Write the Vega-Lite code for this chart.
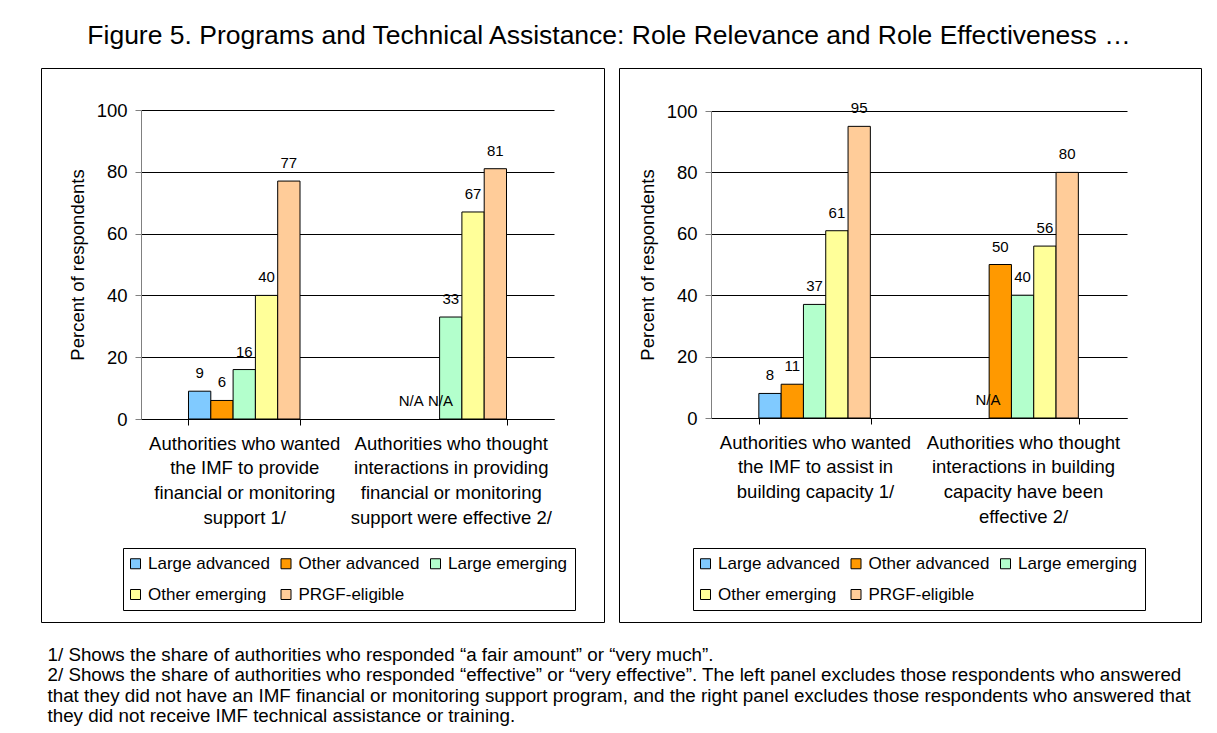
{
  "$schema": "https://vega.github.io/schema/vega-lite/v6.json",
  "background": "white",
  "padding": {"left": 40, "top": 23, "right": 0, "bottom": 0},
  "autosize": {"type": "pad"},
  "datasets": {
    "financial": [
      {"question": "Authorities who wanted\nthe IMF to provide\nfinancial or monitoring\nsupport 1/", "group": "Large advanced", "value": 9},
      {"question": "Authorities who wanted\nthe IMF to provide\nfinancial or monitoring\nsupport 1/", "group": "Other advanced", "value": 6},
      {"question": "Authorities who wanted\nthe IMF to provide\nfinancial or monitoring\nsupport 1/", "group": "Large emerging", "value": 16},
      {"question": "Authorities who wanted\nthe IMF to provide\nfinancial or monitoring\nsupport 1/", "group": "Other emerging", "value": 40},
      {"question": "Authorities who wanted\nthe IMF to provide\nfinancial or monitoring\nsupport 1/", "group": "PRGF-eligible", "value": 77},
      {"question": "Authorities who thought\ninteractions in providing\nfinancial or monitoring\nsupport were effective 2/", "group": "Large advanced", "value": null},
      {"question": "Authorities who thought\ninteractions in providing\nfinancial or monitoring\nsupport were effective 2/", "group": "Other advanced", "value": null},
      {"question": "Authorities who thought\ninteractions in providing\nfinancial or monitoring\nsupport were effective 2/", "group": "Large emerging", "value": 33},
      {"question": "Authorities who thought\ninteractions in providing\nfinancial or monitoring\nsupport were effective 2/", "group": "Other emerging", "value": 67},
      {"question": "Authorities who thought\ninteractions in providing\nfinancial or monitoring\nsupport were effective 2/", "group": "PRGF-eligible", "value": 81}
    ],
    "capacity": [
      {"question": "Authorities who wanted\nthe IMF to assist in\nbuilding capacity 1/", "group": "Large advanced", "value": 8},
      {"question": "Authorities who wanted\nthe IMF to assist in\nbuilding capacity 1/", "group": "Other advanced", "value": 11},
      {"question": "Authorities who wanted\nthe IMF to assist in\nbuilding capacity 1/", "group": "Large emerging", "value": 37},
      {"question": "Authorities who wanted\nthe IMF to assist in\nbuilding capacity 1/", "group": "Other emerging", "value": 61},
      {"question": "Authorities who wanted\nthe IMF to assist in\nbuilding capacity 1/", "group": "PRGF-eligible", "value": 95},
      {"question": "Authorities who thought\ninteractions in building\ncapacity have been\neffective 2/", "group": "Large advanced", "value": null},
      {"question": "Authorities who thought\ninteractions in building\ncapacity have been\neffective 2/", "group": "Other advanced", "value": 50},
      {"question": "Authorities who thought\ninteractions in building\ncapacity have been\neffective 2/", "group": "Large emerging", "value": 40},
      {"question": "Authorities who thought\ninteractions in building\ncapacity have been\neffective 2/", "group": "Other emerging", "value": 56},
      {"question": "Authorities who thought\ninteractions in building\ncapacity have been\neffective 2/", "group": "PRGF-eligible", "value": 80}
    ]
  },
  "title": {
    "text": "Figure 5. Programs and Technical Assistance: Role Relevance and Role Effectiveness …",
    "fontSize": 26.5,
    "fontWeight": "normal",
    "font": "Liberation Sans",
    "color": "black",
    "anchor": "middle",
    "baseline": "top",
    "offset": 18,
    "dx": -12
  },
  "vconcat": [
    {
      "title": {
        "text": [
          "1/ Shows the share of authorities who responded “a fair amount” or “very much”.",
          "2/ Shows the share of authorities who responded “effective” or “very effective”. The left panel excludes those respondents who answered",
          "that they did not have an IMF financial or monitoring support program, and the right panel excludes those respondents who answered that",
          "they did not receive IMF technical assistance or training."
        ],
        "orient": "bottom",
        "anchor": "start",
        "align": "left",
        "baseline": "top",
        "fontSize": 18.8,
        "lineHeight": 20.5,
        "fontWeight": "normal",
        "font": "Liberation Sans",
        "color": "black",
        "offset": 23,
        "dx": 7
      },
      "spacing": 13,
      "resolve": {"scale": {"color": "independent"}, "legend": {"color": "independent"}},
      "hconcat": [
        {
          "width": 563,
          "height": 554,
          "data": {"name": "financial"},
          "encoding": {
            "x": {
              "field": "question",
              "type": "nominal",
              "sort": null,
              "scale": {"range": [100, 513], "paddingInner": 0.46, "paddingOuter": 0.23},
              "axis": {
                "title": null,
                "offset": -203,
                "labelExpr": "split(datum.label, '\\n')",
                "labelAngle": 0,
                "labelLimit": 0,
                "labelOverlap": false,
                "labelFontSize": 18.5,
                "labelLineHeight": 24.7,
                "labelPadding": 9,
                "tickBand": "extent",
                "tickSize": 6,
                "tickColor": "black",
                "domainColor": "black",
                "grid": false
              }
            },
            "xOffset": {
              "field": "group",
              "type": "nominal",
              "sort": ["Large advanced", "Other advanced", "Large emerging", "Other emerging", "PRGF-eligible"],
              "scale": {"domain": ["Large advanced", "Other advanced", "Large emerging", "Other emerging", "PRGF-eligible"], "paddingInner": 0, "paddingOuter": 0}
            },
            "y": {
              "field": "value",
              "type": "quantitative",
              "scale": {"domain": [0, 100], "range": [351, 42], "nice": false},
              "axis": {
                "title": "Percent of respondents",
                "offset": -100,
                "values": [0, 20, 40, 60, 80, 100],
                "grid": true,
                "gridColor": "black",
                "gridWidth": 1,
                "domainColor": "#808080",
                "tickColor": "#808080",
                "tickSize": 6,
                "labelPadding": 8,
                "labelFontSize": 18.5,
                "titleFontSize": 18.5,
                "titlePadding": 9
              }
            }
          },
          "layer": [
            {
              "mark": {"type": "bar", "stroke": "black", "strokeWidth": 1},
              "encoding": {
                "color": {
                  "field": "group",
                  "type": "nominal",
                  "scale": {
                    "domain": ["Large advanced", "Other advanced", "Large emerging", "Other emerging", "PRGF-eligible"],
                    "range": ["#80CAFF", "#FF9900", "#B3FFCC", "#FFFF99", "#FFCC99"]
                  },
                  "legend": {"legendX": 82, "legendY": 480}
                }
              }
            },
            {
              "transform": [{"filter": "isValid(datum.value)"}],
              "mark": {"type": "text", "fontSize": 15, "baseline": "alphabetic", "align": "center", "dy": -13, "color": "black"},
              "encoding": {"text": {"field": "value", "type": "quantitative", "format": "d"}}
            },
            {
              "transform": [{"filter": "!isValid(datum.value) && datum.group === 'Large advanced'"}],
              "mark": {"type": "text", "text": "N/A", "fontSize": 15, "baseline": "alphabetic", "align": "center", "dy": -13, "dx": 5, "color": "black", "invalid": "show"},
              "encoding": {}
            },
            {
              "transform": [{"filter": "!isValid(datum.value) && datum.group === 'Other advanced'"}],
              "mark": {"type": "text", "text": "N/A", "fontSize": 15, "baseline": "alphabetic", "align": "center", "dy": -13, "dx": 12, "color": "black", "invalid": "show"},
              "encoding": {}
            }
          ]
        },
        {
          "width": 582,
          "height": 554,
          "data": {"name": "capacity"},
          "encoding": {
            "x": {
              "field": "question",
              "type": "nominal",
              "sort": null,
              "scale": {"range": [92, 508], "paddingInner": 0.46, "paddingOuter": 0.23},
              "axis": {
                "title": null,
                "offset": -204,
                "labelExpr": "split(datum.label, '\\n')",
                "labelAngle": 0,
                "labelLimit": 0,
                "labelOverlap": false,
                "labelFontSize": 18.5,
                "labelLineHeight": 24.7,
                "labelPadding": 9,
                "tickBand": "extent",
                "tickSize": 6,
                "tickColor": "black",
                "domainColor": "black",
                "grid": false
              }
            },
            "xOffset": {
              "field": "group",
              "type": "nominal",
              "sort": ["Large advanced", "Other advanced", "Large emerging", "Other emerging", "PRGF-eligible"],
              "scale": {"domain": ["Large advanced", "Other advanced", "Large emerging", "Other emerging", "PRGF-eligible"], "paddingInner": 0, "paddingOuter": 0}
            },
            "y": {
              "field": "value",
              "type": "quantitative",
              "scale": {"domain": [0, 100], "range": [350, 43], "nice": false},
              "axis": {
                "title": "Percent of respondents",
                "offset": -92,
                "values": [0, 20, 40, 60, 80, 100],
                "grid": true,
                "gridColor": "black",
                "gridWidth": 1,
                "domainColor": "#808080",
                "tickColor": "#808080",
                "tickSize": 6,
                "labelPadding": 8,
                "labelFontSize": 18.5,
                "titleFontSize": 18.5,
                "titlePadding": 9
              }
            }
          },
          "layer": [
            {
              "mark": {"type": "bar", "stroke": "black", "strokeWidth": 1},
              "encoding": {
                "color": {
                  "field": "group",
                  "type": "nominal",
                  "scale": {
                    "domain": ["Large advanced", "Other advanced", "Large emerging", "Other emerging", "PRGF-eligible"],
                    "range": ["#80CAFF", "#FF9900", "#B3FFCC", "#FFFF99", "#FFCC99"]
                  },
                  "legend": {"legendX": 74, "legendY": 480}
                }
              }
            },
            {
              "transform": [{"filter": "isValid(datum.value)"}],
              "mark": {"type": "text", "fontSize": 15, "baseline": "alphabetic", "align": "center", "dy": -13, "color": "black"},
              "encoding": {"text": {"field": "value", "type": "quantitative", "format": "d"}}
            },
            {
              "transform": [{"filter": "!isValid(datum.value)"}],
              "mark": {"type": "text", "text": "N/A", "fontSize": 15, "baseline": "alphabetic", "align": "center", "dy": -13, "dx": 10, "color": "black", "invalid": "show"},
              "encoding": {}
            }
          ]
        }
      ]
    }
  ],
  "config": {
    "font": "Liberation Sans",
    "view": {"stroke": "black", "strokeWidth": 1},
    "axis": {
      "labelFont": "Liberation Sans",
      "titleFont": "Liberation Sans",
      "labelColor": "black",
      "titleColor": "black",
      "titleFontWeight": "normal"
    },
    "legend": {
      "orient": "none",
      "direction": "horizontal",
      "columns": 3,
      "title": null,
      "strokeColor": "black",
      "fillColor": "white",
      "padding": 7,
      "columnPadding": 8.5,
      "rowPadding": 13,
      "symbolType": "square",
      "symbolSize": 100,
      "symbolOffset": -3,
      "symbolStrokeColor": "black",
      "symbolStrokeWidth": 1,
      "symbolOpacity": 1,
      "labelFont": "Liberation Sans",
      "labelFontSize": 17,
      "labelColor": "black",
      "labelOffset": 4,
      "labelLimit": 0
    }
  }
}
